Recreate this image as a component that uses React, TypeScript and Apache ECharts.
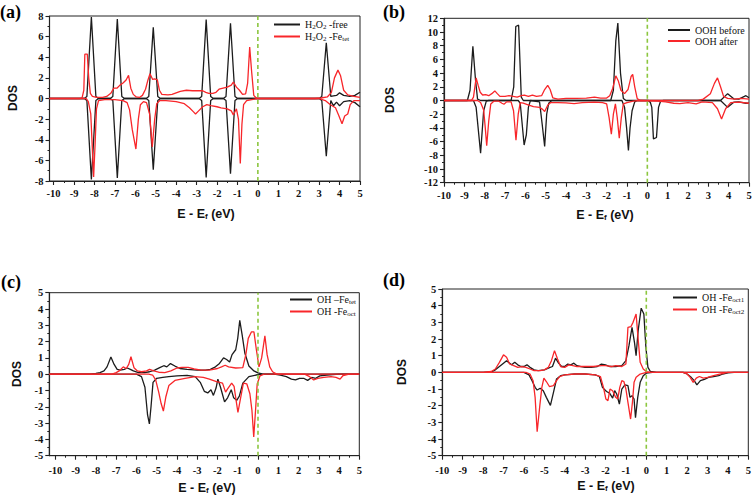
import React, { useEffect, useRef } from 'react';
import * as echarts from 'echarts';

type P = [number, number][];

const xTickValues = [-10, -9, -8, -7, -6, -5, -4, -3, -2, -1, 0, 1, 2, 3, 4, 5];
const xMinorValues = [-9.5, -8.5, -7.5, -6.5, -5.5, -4.5, -3.5, -2.5, -1.5, -0.5, 0.5, 1.5, 2.5, 3.5, 4.5];

// ---------- (a) H2O2 ----------
const aFreeUp: P = [[-10.2,0],[-8.5,0],[-8.37,0.2],[-8.15,7.9],[-7.93,0.2],[-7.8,0],[-7.23,0],[-7.1,0.2],[-6.88,7.7],[-6.66,0.2],[-6.53,0],[-5.47,0],[-5.34,0.2],[-5.12,6.9],[-4.9,0.2],[-4.77,0],[-2.88,0],[-2.75,0.2],[-2.53,7.65],[-2.31,0.2],[-2.18,0],[-1.69,0],[-1.56,0.2],[-1.34,7.3],[-1.12,0.2],[-0.99,0],[3.0,0],[3.13,0.2],[3.35,5.4],[3.57,0.2],[3.7,0.25],[3.85,0.3],[4.0,0.55],[4.2,0.3],[4.5,0.2],[4.75,0.3],[5.0,0.6]];
const aFreeDn: P = [[-10.2,0],[-8.5,0],[-8.37,-0.2],[-8.15,-7.85],[-7.93,-0.2],[-7.8,0],[-7.23,0],[-7.1,-0.2],[-6.88,-7.7],[-6.66,-0.2],[-6.53,0],[-5.47,0],[-5.34,-0.2],[-5.12,-6.9],[-4.9,-0.2],[-4.77,0],[-2.88,0],[-2.75,-0.2],[-2.53,-7.65],[-2.31,-0.2],[-2.18,0],[-1.69,0],[-1.56,-0.2],[-1.34,-7.3],[-1.12,-0.2],[-0.99,0],[3.0,0],[3.13,-0.2],[3.35,-5.6],[3.57,-0.2],[3.7,-0.7],[3.85,-0.35],[4.0,-0.7],[4.2,-0.3],[4.5,-0.2],[4.75,-0.4],[5.0,-0.8]];
const aFeUp: P = [[-10.2,0],[-8.7,0],[-8.6,0.1],[-8.52,0.8],[-8.47,4.3],[-8.35,4.3],[-8.28,2],[-8.2,0.5],[-8.1,0.2],[-7.9,0.1],[-7.6,0.1],[-7.4,0.2],[-7.2,0.5],[-7.05,1.0],[-6.9,1.0],[-6.75,1.3],[-6.6,1.5],[-6.45,1.8],[-6.33,2.25],[-6.22,1.0],[-6.1,0.4],[-5.95,0.15],[-5.8,0.1],[-5.65,0.3],[-5.5,0.9],[-5.38,1.8],[-5.28,2.4],[-5.15,1.85],[-5.05,1.9],[-4.92,1.8],[-4.82,0.8],[-4.7,0.4],[-4.4,0.35],[-4.2,0.4],[-4.0,0.55],[-3.8,0.7],[-3.5,0.8],[-3.2,0.75],[-2.9,0.75],[-2.7,0.75],[-2.55,0.6],[-2.4,0.5],[-2.2,0.5],[-2.05,0.6],[-1.9,0.9],[-1.7,1.0],[-1.5,1.1],[-1.3,1.3],[-1.2,1.6],[-1.05,1.1],[-0.9,0.8],[-0.75,0.4],[-0.6,0.45],[-0.5,1.5],[-0.4,5.0],[-0.3,2.5],[-0.2,0.3],[-0.1,0.1],[0,0],[2.8,0],[3.1,0.05],[3.4,0.15],[3.6,0.6],[3.75,2.0],[3.92,2.75],[4.05,2.2],[4.2,0.8],[4.4,0.35],[4.7,0.2],[5.0,0.1]];
const aFeDn: P = [[-10.2,0],[-8.4,0],[-8.3,-0.3],[-8.18,-1.5],[-8.1,-5],[-8.04,-7.6],[-7.97,-4.5],[-7.9,-1],[-7.8,-0.2],[-7.5,-0.1],[-7.0,-0.1],[-6.6,-0.2],[-6.4,-0.4],[-6.28,-1.1],[-6.15,-3],[-5.97,-4.9],[-5.85,-2],[-5.75,-0.6],[-5.6,-0.3],[-5.45,-0.4],[-5.3,-1.5],[-5.17,-4.7],[-5.05,-2],[-4.95,-0.5],[-4.8,-0.2],[-4.5,-0.2],[-4.0,-0.3],[-3.6,-0.5],[-3.35,-0.9],[-3.15,-1.3],[-3.05,-1.5],[-2.9,-1.2],[-2.7,-0.8],[-2.5,-0.6],[-2.3,-0.7],[-2.0,-0.8],[-1.8,-0.9],[-1.5,-1.0],[-1.3,-1.2],[-1.2,-1.6],[-1.05,-1.0],[-0.95,-2],[-0.86,-6.3],[-0.78,-2.5],[-0.7,-0.6],[-0.55,-0.2],[-0.3,-0.1],[0,0],[3.0,0],[3.3,-0.2],[3.55,-0.6],[3.8,-0.9],[3.95,-1.6],[4.12,-2.45],[4.25,-1.7],[4.4,-1.5],[4.52,-0.6],[4.7,-0.2],[5.0,-0.2]];

// ---------- (b) OOH ----------
const bBeforeUp: P = [[-10,0],[-8.85,0],[-8.72,1.5],[-8.58,7.9],[-8.45,3],[-8.35,0.2],[-8.2,0],[-6.7,0],[-6.57,2],[-6.47,10.8],[-6.33,11.0],[-6.2,0.5],[-6.1,0],[-1.8,0],[-1.67,1.5],[-1.55,8.7],[-1.45,11.3],[-1.32,4],[-1.18,0.3],[-1.05,0],[3.6,0],[3.95,1.0],[4.25,0.25],[4.5,0.2],[4.85,0.7],[5.0,0.4]];
const bBeforeDn: P = [[-10,0],[-8.55,0],[-8.42,-1],[-8.2,-7.7],[-8.05,-1.5],[-7.92,-0.1],[-7.8,0],[-6.35,0],[-6.25,-0.4],[-6.06,-6.5],[-5.95,-5],[-5.85,-1],[-5.75,0],[-5.3,-0.2],[-5.17,-3.5],[-5.05,-6.7],[-4.95,-2],[-4.85,-0.4],[-4.7,0],[-1.25,0],[-1.12,-1],[-1.02,-4],[-0.93,-7.3],[-0.85,-4],[-0.75,-1.5],[-0.62,-0.2],[-0.5,0],[0.05,0],[0.15,-0.3],[0.22,-1],[0.3,-5.6],[0.45,-5.4],[0.55,-1],[0.65,-0.1],[0.8,0],[3.6,0],[3.95,-1.0],[4.25,-0.25],[4.5,-0.2],[4.85,-0.4],[5.0,-0.4]];
const bAfterUp: P = [[-10,0],[-8.65,0],[-8.55,0.5],[-8.42,3.3],[-8.32,2.2],[-8.22,1.2],[-8.1,0.8],[-7.95,0.85],[-7.8,0.7],[-7.65,1.0],[-7.5,1.4],[-7.38,1.0],[-7.25,0.6],[-7.0,0.6],[-6.8,0.7],[-6.6,0.6],[-6.4,0.5],[-6.2,0.7],[-6.05,0.8],[-5.85,0.6],[-5.65,0.8],[-5.45,0.6],[-5.2,0.7],[-5.05,1.6],[-4.9,2.2],[-4.78,1.6],[-4.65,0.4],[-4.4,0.2],[-4.0,0.3],[-3.5,0.3],[-3.0,0.35],[-2.6,0.5],[-2.3,0.35],[-2.0,0.35],[-1.85,0.7],[-1.7,1.8],[-1.55,3.6],[-1.42,2.8],[-1.3,1.5],[-1.12,1.0],[-0.95,1.6],[-0.8,3.5],[-0.72,3.8],[-0.62,2.0],[-0.5,0.3],[-0.35,0],[2.5,0],[2.75,0.2],[3.1,1.0],[3.3,2.5],[3.45,3.3],[3.6,2.0],[3.75,0.6],[3.95,0.3],[4.3,0.2],[4.6,0.3],[5.0,0.2]];
const bAfterDn: P = [[-10,0],[-8.35,0],[-8.2,-0.3],[-8.05,-1.4],[-7.97,-4],[-7.9,-6.6],[-7.8,-3],[-7.7,-0.5],[-7.55,-0.1],[-7.3,-0.1],[-7.15,-0.4],[-7.05,-0.55],[-6.92,-0.2],[-6.7,-0.2],[-6.58,-1.5],[-6.46,-5.8],[-6.35,-2],[-6.25,-0.3],[-6.1,-0.4],[-5.9,-0.6],[-5.6,-0.9],[-5.3,-1.0],[-5.15,-1.3],[-5.05,-1.6],[-4.9,-0.7],[-4.75,-0.3],[-4.4,-0.3],[-4.0,-0.35],[-3.6,-0.45],[-3.2,-0.3],[-2.6,-0.25],[-2.2,-0.3],[-2.0,-0.5],[-1.88,-2.5],[-1.77,-4.9],[-1.67,-2],[-1.57,-0.5],[-1.48,-2.5],[-1.38,-5.5],[-1.28,-2.5],[-1.18,-0.5],[-1.0,-0.3],[-0.7,-0.1],[-0.4,0],[0.5,-0.1],[0.9,-0.2],[1.3,-0.4],[1.6,-0.45],[2.0,-0.3],[2.4,-0.5],[2.7,-0.2],[3.2,-0.3],[3.45,-1.2],[3.65,-2.7],[3.85,-1.2],[4.1,-0.3],[4.5,-0.25],[5.0,-0.4]];

// ---------- (c) OH on Fe_tet / Fe_oct ----------
const cTetUp: P = [[-10.3,0],[-8.3,0],[-8.0,0.05],[-7.8,0.1],[-7.6,0.2],[-7.45,0.45],[-7.26,1.05],[-7.1,0.6],[-6.95,0.3],[-6.8,0.25],[-6.6,0.3],[-6.45,0.38],[-6.3,0.3],[-6.15,0.2],[-5.9,0.1],[-5.6,0.1],[-5.35,0.15],[-5.1,0.25],[-4.85,0.4],[-4.65,0.52],[-4.5,0.45],[-4.32,0.65],[-4.1,0.5],[-3.85,0.35],[-3.5,0.3],[-3.0,0.25],[-2.6,0.25],[-2.35,0.3],[-2.1,0.45],[-1.9,0.66],[-1.7,1.0],[-1.55,0.9],[-1.4,0.75],[-1.28,1.2],[-1.1,1.5],[-1.0,2.2],[-0.9,3.3],[-0.78,2.4],[-0.65,1.3],[-0.45,0.5],[-0.2,0.2],[0,0.08],[0.2,0.02],[0.5,0],[5,0]];
const cTetDn: P = [[-10.3,0],[-6,0],[-5.75,-0.15],[-5.58,-0.8],[-5.45,-2.5],[-5.36,-3.05],[-5.28,-2],[-5.18,-0.5],[-5.0,-0.25],[-4.7,-0.2],[-4.4,-0.15],[-4.0,-0.1],[-3.5,-0.07],[-3.1,-0.15],[-2.85,-0.5],[-2.65,-1.05],[-2.48,-1.15],[-2.32,-0.95],[-2.2,-1.3],[-2.07,-0.85],[-1.98,-0.3],[-1.85,-0.8],[-1.65,-1.7],[-1.5,-1.45],[-1.32,-0.95],[-1.2,-1.45],[-1.05,-1.6],[-0.92,-1.35],[-0.75,-0.55],[-0.45,-0.15],[-0.1,-0.05],[0.2,0],[0.8,0],[1.1,-0.05],[1.4,-0.15],[1.65,-0.3],[1.85,-0.35],[2.05,-0.25],[2.25,-0.25],[2.45,-0.38],[2.65,-0.2],[2.85,-0.25],[3.05,-0.1],[3.4,-0.05],[4.0,0],[5,0]];
const cOctUp: P = [[-10.3,0],[-7.2,0],[-7.0,0.1],[-6.85,0.2],[-6.65,0.45],[-6.5,0.35],[-6.38,0.6],[-6.27,1.07],[-6.12,0.4],[-5.95,0.2],[-5.75,0.15],[-5.5,0.2],[-5.35,0.3],[-5.15,0.2],[-4.9,0.12],[-4.6,0.1],[-4.3,0.2],[-4.0,0.38],[-3.75,0.42],[-3.45,0.42],[-3.15,0.32],[-2.8,0.25],[-2.4,0.25],[-2.0,0.35],[-1.8,0.45],[-1.62,0.55],[-1.45,0.45],[-1.1,0.38],[-0.75,0.4],[-0.6,1.2],[-0.48,2.2],[-0.32,2.6],[-0.2,2.6],[-0.08,1.5],[0.05,0.45],[0.18,1.0],[0.34,2.35],[0.45,1.2],[0.58,0.45],[0.72,0.15],[0.9,0.02],[1.2,0],[5,0]];
const cOctDn: P = [[-10.3,0],[-5.4,0],[-5.2,-0.05],[-5.05,-0.35],[-4.9,-1.1],[-4.78,-1.8],[-4.67,-2.26],[-4.55,-1.4],[-4.4,-0.7],[-4.1,-0.38],[-3.6,-0.25],[-3.1,-0.15],[-2.7,-0.2],[-2.4,-0.3],[-2.05,-0.45],[-1.75,-0.55],[-1.6,-1.1],[-1.5,-0.9],[-1.3,-0.55],[-1.18,-0.75],[-1.08,-1.6],[-0.99,-2.35],[-0.88,-1.6],[-0.72,-0.55],[-0.55,-0.6],[-0.4,-1.2],[-0.3,-2.2],[-0.21,-3.85],[-0.12,-2.2],[-0.04,-0.6],[0.1,-0.1],[0.3,0],[2.3,0],[2.55,-0.15],[2.75,-0.35],[2.95,-0.25],[3.25,-0.2],[3.6,-0.15],[3.85,-0.2],[4.05,-0.3],[4.2,-0.08],[4.5,0],[5,0]];

// ---------- (d) OH on Fe_oct1 / Fe_oct2 ----------
const dOct1Up: P = [[-10,0],[-8,0],[-7.6,0.02],[-7.4,0.15],[-7.2,0.35],[-7.0,0.55],[-6.85,0.7],[-6.7,0.55],[-6.6,0.45],[-6.45,0.6],[-6.3,0.45],[-6.15,0.35],[-6.0,0.35],[-5.85,0.45],[-5.7,0.3],[-5.5,0.15],[-5.3,0.1],[-5.0,0.15],[-4.8,0.25],[-4.6,0.35],[-4.45,0.85],[-4.3,0.55],[-4.15,0.35],[-4.0,0.35],[-3.85,0.5],[-3.7,0.45],[-3.55,0.55],[-3.4,0.4],[-3.2,0.35],[-3.0,0.3],[-2.7,0.3],[-2.4,0.35],[-2.2,0.5],[-2.0,0.45],[-1.8,0.35],[-1.5,0.35],[-1.2,0.4],[-1.0,0.7],[-0.85,1.6],[-0.7,2.7],[-0.58,1.8],[-0.5,1.0],[-0.4,2.5],[-0.25,3.85],[-0.12,3.5],[-0.02,1.5],[0.08,0.3],[0.2,0.05],[0.5,0],[5,0]];
const dOct1Dn: P = [[-10,0],[-6.0,0],[-5.75,-0.15],[-5.6,-0.5],[-5.45,-0.9],[-5.35,-1.06],[-5.2,-0.95],[-5.05,-1.1],[-4.9,-1.5],[-4.7,-1.98],[-4.55,-1.2],[-4.4,-0.4],[-4.2,-0.2],[-4.0,-0.15],[-3.5,-0.1],[-3.0,-0.1],[-2.5,-0.15],[-2.3,-0.25],[-2.15,-0.9],[-1.95,-1.15],[-1.8,-1.25],[-1.65,-1.55],[-1.55,-1.1],[-1.45,-1.3],[-1.32,-1.9],[-1.2,-1.0],[-1.05,-0.75],[-0.9,-0.8],[-0.8,-1.5],[-0.7,-1.4],[-0.6,-1.6],[-0.53,-2.72],[-0.42,-1.5],[-0.3,-0.6],[-0.15,-0.2],[0,-0.05],[0.3,0],[1.8,0],[2.0,-0.1],[2.2,-0.3],[2.35,-0.5],[2.48,-0.75],[2.65,-0.5],[2.85,-0.42],[3.05,-0.3],[3.3,-0.25],[3.55,-0.2],[3.75,-0.1],[4.0,-0.03],[4.3,0],[5,0]];
const dOct2Up: P = [[-10,0],[-8,0],[-7.6,0.05],[-7.4,0.2],[-7.2,0.6],[-7.0,1.05],[-6.85,0.9],[-6.7,0.5],[-6.5,0.4],[-6.3,0.3],[-6.1,0.35],[-5.9,0.3],[-5.7,0.2],[-5.5,0.1],[-5.2,0.1],[-5.0,0.15],[-4.8,0.3],[-4.65,0.7],[-4.5,1.3],[-4.35,0.8],[-4.2,0.35],[-4.0,0.3],[-3.8,0.45],[-3.6,0.4],[-3.4,0.35],[-3.0,0.35],[-2.6,0.35],[-2.2,0.4],[-2.0,0.4],[-1.7,0.35],[-1.5,0.4],[-1.2,0.35],[-1.0,0.5],[-0.9,2.7],[-0.75,2.75],[-0.65,3.0],[-0.5,3.5],[-0.4,2.0],[-0.3,0.6],[-0.15,0.2],[0,0.05],[0.2,0],[5,0]];
const dOct2Dn: P = [[-10,0],[-5.9,0],[-5.7,-0.1],[-5.55,-0.5],[-5.45,-1.5],[-5.35,-3.56],[-5.22,-2.0],[-5.12,-0.9],[-5.02,-0.35],[-4.9,-0.55],[-4.75,-0.85],[-4.55,-0.8],[-4.4,-0.5],[-4.25,-0.25],[-4.0,-0.15],[-3.5,-0.1],[-3.0,-0.1],[-2.5,-0.15],[-2.25,-0.25],[-2.1,-0.9],[-1.98,-1.6],[-1.88,-1.7],[-1.78,-1.0],[-1.65,-1.1],[-1.5,-1.5],[-1.4,-1.6],[-1.3,-0.9],[-1.2,-0.5],[-1.1,-0.55],[-1.0,-1.0],[-0.9,-1.8],[-0.77,-2.8],[-0.68,-1.8],[-0.6,-0.6],[-0.5,-0.3],[-0.3,-0.1],[0,0],[1.8,0],[2.0,-0.1],[2.15,-0.3],[2.3,-0.6],[2.45,-0.35],[2.6,-0.25],[2.8,-0.35],[3.0,-0.3],[3.3,-0.2],[3.6,-0.1],[4.0,0],[5,0]];

const panelLetters = ['(a)', '(b)', '(c)', '(d)'];
const legendNames = [
  ['H2O2 -free', 'H2O2 -Fetet'],
  ['OOH before', 'OOH after'],
  ['OH \u2013Fetet', 'OH -Feoct'],
  ['OH -Feoct1', 'OH -Feoct2'],
];
const legendRichText: Record<string, string> = {
  'H2O2 -free': '{n|H}{s|2}{n|O}{s|2}{n| -free}',
  'H2O2 -Fetet': '{n|H}{s|2}{n|O}{s|2}{n| -Fe}{s|tet}',
  'OOH before': '{n|OOH before}',
  'OOH after': '{n|OOH after}',
  'OH \u2013Fetet': '{n|OH \u2013Fe}{s|tet}',
  'OH -Feoct': '{n|OH -Fe}{s|oct}',
  'OH -Feoct1': '{n|OH -Fe}{s|oct1}',
  'OH -Feoct2': '{n|OH -Fe}{s|oct2}',
};
const yRanges: [number, number, number][] = [[-8, 8, 2], [-12, 12, 2], [-5, 5, 1], [-5, 5, 1]];
const xMins = [-10.2, -10, -10.3, -10];
const xMax = 5;
const curves: [P, P, P, P][] = [
  [aFreeUp, aFreeDn, aFeUp, aFeDn],
  [bBeforeUp, bBeforeDn, bAfterUp, bAfterDn],
  [cTetUp, cTetDn, cOctUp, cOctDn],
  [dOct1Up, dOct1Dn, dOct2Up, dOct2Dn],
];

// layout (pixels)
const grids = [
  { left: 49.5, top: 16, width: 310.5, height: 165 },
  { left: 444, top: 18.3, width: 305, height: 164.4 },
  { left: 49.3, top: 292.7, width: 310, height: 163 },
  { left: 442.3, top: 289, width: 306, height: 166.7 },
];
const legendPos = [
  { left: 274, top: 19, itemWidth: 26 },
  { left: 668, top: 25, itemWidth: 22 },
  { left: 290, top: 294, itemWidth: 22 },
  { left: 673, top: 292, itemWidth: 24 },
];
const xLabelMargin = [7, 7, 9, 9];
const letterPos = [[0, 3], [383, 3], [1, 273], [383, 271]];
const dosPos = [[13, 98], [390, 100], [17, 374], [402, 372]];
const eLabelPos = [[206, 214], [605, 215], [207, 488], [606, 486]];

const BLACK = '#1c1c1c';
const RED = '#f8262a';
const GREEN = '#8cc63f';
const SERIF = '"Liberation Serif", "Times New Roman", serif';
const SANS = '"Liberation Sans", Arial, sans-serif';

function buildOption() {
  const xAxis: any[] = [];
  const yAxis: any[] = [];
  const series: any[] = [];
  const legend: any[] = [];
  const graphic: any[] = [];

  grids.forEach((g, i) => {
    const [ymin, ymax, yint] = yRanges[i];
    xAxis.push({
      type: 'value', gridIndex: i, min: xMins[i], max: xMax, position: 'bottom',
      splitLine: { show: false },
      axisLine: { show: true, onZero: false, lineStyle: { color: '#222', width: 1.2 } },
      axisTick: { show: true, customValues: xTickValues, length: 4, lineStyle: { color: '#222', width: 1.1 } },
      axisLabel: {
        show: true, customValues: xTickValues, margin: xLabelMargin[i],
        fontFamily: SERIF, fontWeight: 'bold', fontSize: 10.5, color: '#111',
      },
    });
    xAxis.push({
      type: 'value', gridIndex: i, min: xMins[i], max: xMax, position: 'bottom',
      splitLine: { show: false },
      axisLine: { show: false, onZero: false },
      axisTick: { show: true, customValues: xMinorValues, length: 2, lineStyle: { color: '#222', width: 1 } },
      axisLabel: { show: false },
    });
    yAxis.push({
      type: 'value', gridIndex: i, min: ymin, max: ymax, interval: yint,
      splitLine: { show: false },
      axisLine: { show: true, onZero: false, lineStyle: { color: '#222', width: 1.2 } },
      axisTick: { show: true, length: 4, lineStyle: { color: '#222', width: 1.1 } },
      minorTick: { show: true, splitNumber: 2, length: 2, lineStyle: { color: '#222', width: 1 } },
      axisLabel: { margin: 6, fontFamily: SERIF, fontWeight: 'bold', fontSize: 10.5, color: '#111' },
    });

    const [bu, bd, ru, rd] = curves[i];
    const [nb, nr] = legendNames[i];
    const mk = (name: string, data: P, color: string) => ({
      type: 'line', name, data, xAxisIndex: 2 * i, yAxisIndex: i,
      symbol: 'none', showSymbol: false, color, silent: true,
      lineStyle: { color, width: 1.3 },
    });
    series.push(mk(nb, bu, BLACK), mk(nb, bd, BLACK), mk(nr, ru, RED), mk(nr, rd, RED));
    series.push({
      type: 'line', name: 'Ef' + i, data: [[0, ymin], [0, ymax]], xAxisIndex: 2 * i, yAxisIndex: i,
      symbol: 'none', silent: true, color: GREEN,
      lineStyle: { color: GREEN, width: 1.6, type: [4, 3] },
    });

    const lp = legendPos[i];
    legend.push({
      data: [nb, nr], orient: 'vertical', left: lp.left, top: lp.top,
      itemWidth: lp.itemWidth, itemHeight: 2, itemGap: 1, icon: 'rect',
      selectedMode: false, padding: 0,
      formatter: (name: string) => legendRichText[name] || name,
      textStyle: {
        color: '#111',
        rich: {
          n: { fontFamily: SERIF, fontSize: 10, lineHeight: 12, color: '#111' },
          s: { fontFamily: SERIF, fontSize: 7, lineHeight: 8, padding: [4, 0, 0, 0], color: '#111' },
        },
      },
    });

    graphic.push({
      type: 'text', x: letterPos[i][0], y: letterPos[i][1],
      style: { text: panelLetters[i], font: 'bold 18px ' + SERIF, fill: '#000' },
    });
    graphic.push({
      type: 'text', x: dosPos[i][0], y: dosPos[i][1], rotation: Math.PI / 2,
      style: { text: 'DOS', font: 'bold 12px ' + SANS, fill: '#111', align: 'center', verticalAlign: 'middle' },
    });
    graphic.push({
      type: 'text', x: eLabelPos[i][0], y: eLabelPos[i][1],
      style: {
        text: '{b|E - E}{s|f}{b| (eV)}', align: 'center', verticalAlign: 'middle', fill: '#111',
        rich: {
          b: { fontFamily: SANS, fontWeight: 'bold', fontSize: 12.5, lineHeight: 14, fill: '#111' },
          s: { fontFamily: SANS, fontWeight: 'bold', fontSize: 8, lineHeight: 9, padding: [5, 0, 0, 0], fill: '#111' },
        },
      },
    });
  });

  return {
    animation: false,
    backgroundColor: '#ffffff',
    grid: grids.map((g) => ({ ...g, show: true, borderColor: '#222', borderWidth: 1, backgroundColor: 'transparent', containLabel: false })),
    xAxis, yAxis, series, legend, graphic,
  };
}

export default function App() {
  const ref = useRef<HTMLDivElement>(null);
  useEffect(() => {
    if (!ref.current) return;
    const chart = echarts.init(ref.current, undefined, { renderer: 'svg' });
    chart.setOption(buildOption() as any);
    return () => chart.dispose();
  }, []);
  return <div ref={ref} style={{ position: 'fixed', left: 0, top: 0, width: 756, height: 501, background: '#fff' }} />;
}
